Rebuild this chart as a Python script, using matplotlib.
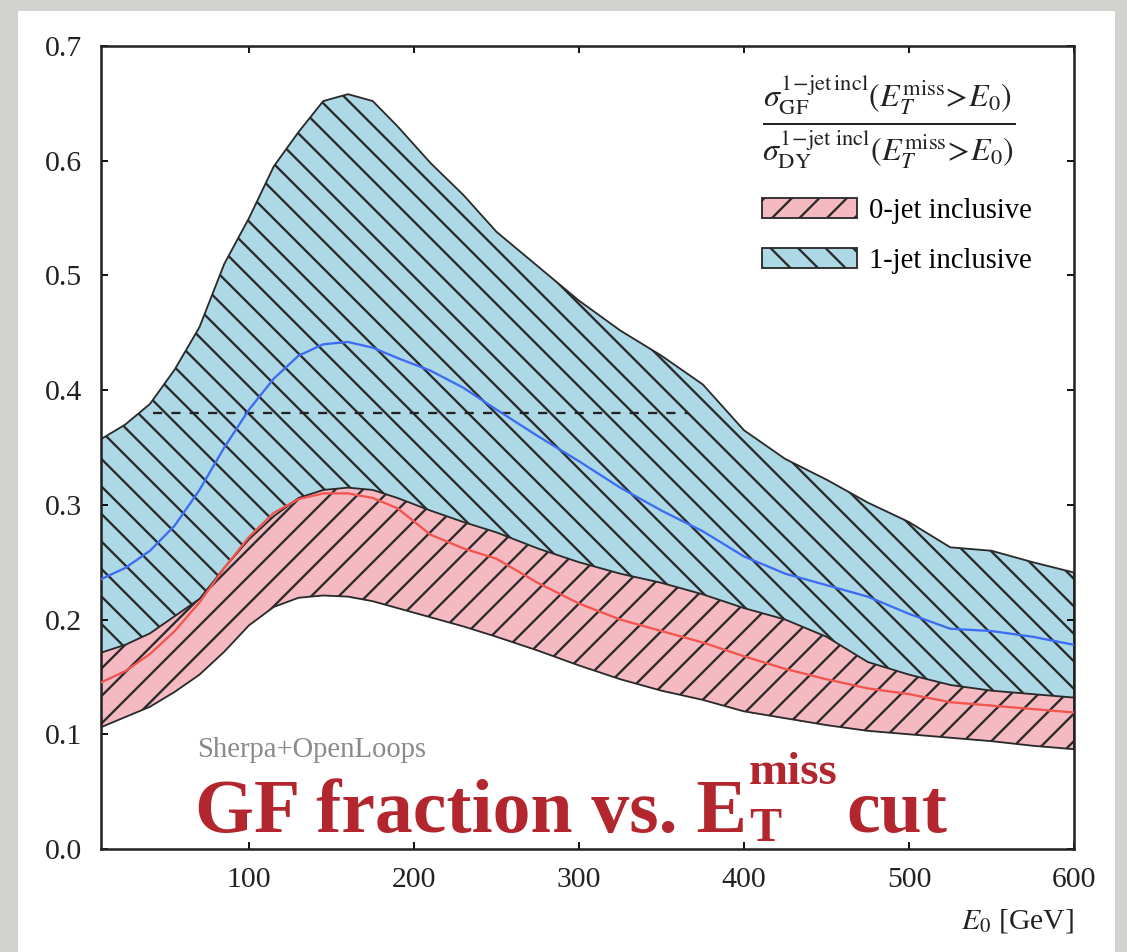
import matplotlib
matplotlib.use("Agg")
import matplotlib.pyplot as plt
from matplotlib.patches import Rectangle

plt.rcParams['font.family'] = 'serif'
plt.rcParams['font.serif'] = ['Liberation Serif', 'DejaVu Serif']
plt.rcParams['mathtext.fontset'] = 'stix'
plt.rcParams['hatch.linewidth'] = 1.0

# E0 cut values [GeV]
e0 = [10, 25, 40, 55, 70, 85, 100, 115, 130, 145, 160, 175, 190, 210, 230,
      250, 275, 300, 325, 350, 375, 400, 425, 450, 475, 500, 525, 550, 575, 600]

# 1-jet inclusive band (upper / lower) and central value
jet1_hi = [.357, .37, .388, .418, .455, .51, .55, .595, .625, .652, .658, .652, .63, .598, .57,
           .538, .508, .478, .452, .43, .405, .365, .34, .322, .302, .285, .263, .26, .25, .241]
jet1_lo = [.168, .172, .18, .19, .2, .215, .23, .245, .255, .26, .262, .26, .255, .25, .245,
           .24, .232, .225, .218, .21, .2, .19, .18, .17, .158, .15, .142, .137, .134, .131]
jet1_mid = [.235, .245, .26, .282, .313, .35, .383, .41, .43, .44, .442, .437, .428, .417, .402,
            .383, .36, .338, .315, .295, .277, .255, .24, .23, .22, .205, .192, .19, .185, .178]

# 0-jet inclusive band (upper / lower) and central value
jet0_hi = [.171, .178, .188, .203, .218, .245, .27, .29, .306, .313, .315, .313, .306, .295, .285,
           .276, .262, .25, .24, .232, .222, .21, .2, .185, .163, .152, .143, .138, .135, .132]
jet0_lo = [.106, .115, .124, .137, .152, .172, .195, .211, .219, .221, .22, .216, .21, .202, .194,
           .185, .173, .16, .148, .138, .13, .12, .114, .108, .103, .1, .097, .094, .09, .087]
jet0_mid = [.145, .155, .17, .19, .215, .245, .272, .293, .305, .31, .31, .306, .297, .274, .262,
            .253, .232, .214, .2, .19, .18, .168, .157, .148, .14, .135, .128, .125, .122, .119]

labels = ['0-jet inclusive', '1-jet inclusive']

W, H, DPI = 1127, 952, 165
fig = plt.figure(figsize=(W / DPI, H / DPI), dpi=DPI, facecolor='#d2d2ce')
fig.patches.append(Rectangle((18 / W, 0), (1115 - 18) / W, 1 - 11 / H,
                             transform=fig.transFigure, facecolor='white',
                             edgecolor='none', zorder=-5))

def fxy(x, y):
    return x / W, 1 - y / H

ax = fig.add_axes([100.5 / W, 1 - 849 / H, (1074 - 100.5) / W, (849 - 46) / H])
ax.set_facecolor('white')

blue_band = ax.fill_between(e0, jet1_lo, jet1_hi, facecolor='#add8e6', edgecolor='#2a2a2a',
                            hatch='\\\\', linewidth=0.8, zorder=1)
pink_band = ax.fill_between(e0, jet0_lo, jet0_hi, facecolor='#f5b9c1', edgecolor='#2a2a2a',
                            hatch='//', linewidth=0.8, zorder=2)
ax.hlines(0.38, 42, 366, colors='#222222', linestyles=(0, (4, 4)), linewidth=1.0, zorder=2.5)
ax.plot(e0, jet1_mid, color='#3d6cf2', lw=1.0, zorder=3)
ax.plot(e0, jet0_mid, color='#f2544e', lw=1.0, zorder=3)

ax.set_xlim(10, 600)
ax.set_ylim(0, 0.7)
ax.set_xticks([100, 200, 300, 400, 500, 600])
ax.set_yticks([0, .1, .2, .3, .4, .5, .6, .7])
ax.set_yticklabels(['0.0', '0.1', '0.2', '0.3', '0.4', '0.5', '0.6', '0.7'])
ax.tick_params(direction='in', length=3, width=0.8, top=True, right=True,
               labelsize=13, labelcolor='#222222', pad=8)
for s in ax.spines.values():
    s.set_linewidth(1.1)
    s.set_color('#222222')
ax.set_xlabel(r'$E_0$ [GeV]', loc='right', fontsize=13, color='#222222', labelpad=6)

ax.legend([pink_band, blue_band], labels, loc='upper left',
          bbox_to_anchor=((762 - 100.5) / 973.5, (849 - 198) / 803), frameon=False,
          fontsize=12.5, handlelength=3.3, handleheight=0.7, handletextpad=0.45,
          labelspacing=0.85, borderpad=0, borderaxespad=0)

frac = (r'$\frac{\sigma_{\mathrm{GF}}^{1\!-\!\mathrm{jet\,incl}}(E_T^{\mathrm{miss}}\!>\!E_0)}'
        r'{\sigma_{\mathrm{DY}}^{1\!-\!\mathrm{jet\ incl}}(E_T^{\mathrm{miss}}\!>\!E_0)}$')
fig.text(*fxy(889, 122), frac, fontsize=20, ha='center', va='center', color='#222222')

fig.text(*fxy(197, 757), 'Sherpa+OpenLoops', fontsize=12.5, color='#8a8a8a', va='baseline')

red = '#b3262e'
tkw = dict(color=red, fontweight='bold', va='baseline')
t1 = fig.text(*fxy(195, 832), 'GF fraction vs. E', fontsize=33, **tkw)
fig.canvas.draw()
r = fig.canvas.get_renderer()
xe = t1.get_window_extent(r).x1 + 2
fig.text(xe / W, 1 - 841 / H, 'T', fontsize=21, **tkw)
t3 = fig.text(xe / W, 1 - 784 / H, 'miss', fontsize=20.5, **tkw)
fig.canvas.draw()
xc = t3.get_window_extent(r).x1 + 9
fig.text(xc / W, 1 - 832 / H, 'cut', fontsize=33, **tkw)

fig.savefig('out.png', dpi=DPI, facecolor=fig.get_facecolor())
